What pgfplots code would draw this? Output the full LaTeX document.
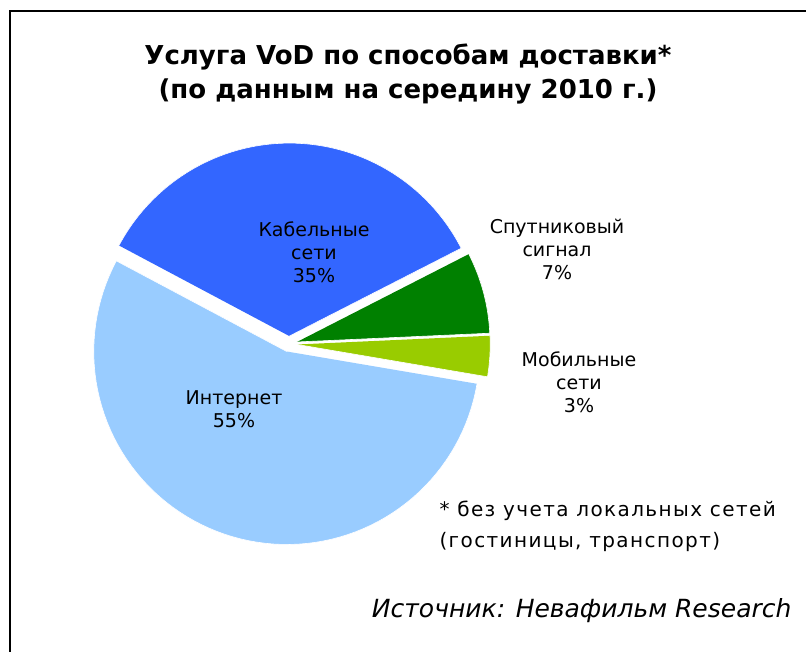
\documentclass[border=0pt]{standalone}
\usepackage{fontspec}
\setmainfont{DejaVu Sans}
\usepackage{pgfplots}
\usepackage{pgfplotstable}
\pgfplotsset{compat=1.18}
\definecolor{cab}{HTML}{3366FF}
\definecolor{sat}{HTML}{008000}
\definecolor{mob}{HTML}{99CC00}
\definecolor{inet}{HTML}{99CCFF}
\pgfplotstableread{
share
34.7
6.8
3.4
55.1
}\pietable
\begin{document}
\begin{tikzpicture}
\useasboundingbox (0pt,0pt) rectangle (806pt,-652pt);
\fill[white] (0pt,0pt) rectangle (806pt,-652pt);
\draw[line width=2.2pt] (10pt,-660pt) -- (10pt,-11pt) -- (820pt,-11pt);
% compute slice angles
\pgfmathsetmacro\st{152}
\pgfplotstablegetelem{0}{share}\of\pietable \pgfmathsetmacro\vA{\pgfplotsretval}
\pgfplotstablegetelem{1}{share}\of\pietable \pgfmathsetmacro\vB{\pgfplotsretval}
\pgfplotstablegetelem{2}{share}\of\pietable \pgfmathsetmacro\vC{\pgfplotsretval}
\pgfplotstablegetelem{3}{share}\of\pietable \pgfmathsetmacro\vD{\pgfplotsretval}
\pgfmathsetmacro\aA{\st}
\pgfmathsetmacro\bA{\aA-3.6*\vA}
\pgfmathsetmacro\bB{\bA-3.6*\vB}
\pgfmathsetmacro\bC{\bB-3.6*\vC}
\pgfmathsetmacro\bD{\bC-3.6*\vD}
\def\ex{0.041}
\begin{axis}[
  at={(289.3pt,-344pt)}, anchor=center,
  scale only axis, width=463.2pt, height=463.2pt,
  xmin=-1.2,xmax=1.2,ymin=-1.2,ymax=1.2,
  hide axis, clip=false,
  samples at={0,0.0125,...,1.0125,2},
]
\addplot[fill=cab, draw=white, line width=0.6pt]
 ({\ex*cos((\aA+\bA)/2) + (x<1.5)*cos(\aA+(\bA-\aA)*min(x,1))},
  {\ex*sin((\aA+\bA)/2) + (x<1.5)*sin(\aA+(\bA-\aA)*min(x,1))});
\addplot[fill=sat, draw=white, line width=0.6pt]
 ({\ex*cos((\bA+\bB)/2) + (x<1.5)*cos(\bA+(\bB-\bA)*min(x,1))},
  {\ex*sin((\bA+\bB)/2) + (x<1.5)*sin(\bA+(\bB-\bA)*min(x,1))});
\addplot[fill=mob, draw=white, line width=0.6pt]
 ({\ex*cos((\bB+\bC)/2) + (x<1.5)*cos(\bB+(\bC-\bB)*min(x,1))},
  {\ex*sin((\bB+\bC)/2) + (x<1.5)*sin(\bB+(\bC-\bB)*min(x,1))});
\addplot[fill=inet, draw=white, line width=0.6pt]
 ({\ex*cos((\bC+\bD)/2) + (x<1.5)*cos(\bC+(\bD-\bC)*min(x,1))},
  {\ex*sin((\bC+\bD)/2) + (x<1.5)*sin(\bC+(\bD-\bC)*min(x,1))});
\end{axis}
% title
\node[font=\fontsize{26}{34}\selectfont\bfseries, align=center] at (408pt,-74pt)
 {Услуга VoD по способам доставки*\\(по данным на середину 2010 г.)};
% labels
\begin{scope}[every node/.style={font=\fontsize{19}{23}\selectfont, align=center}]
\node at (314pt,-252pt) {Кабельные\\сети\\35\%};
\node at (557pt,-249pt) {Спутниковый\\сигнал\\7\%};
\node at (579pt,-382pt) {Мобильные\\сети\\3\%};
\node at (234pt,-409pt) {Интернет\\55\%};
\node[anchor=west, align=left, font=\fontsize{20}{31}\selectfont\addfontfeatures{LetterSpace=7}] at (436pt,-526pt)
 {* без учета локальных сетей\\(гостиницы, транспорт)};
\end{scope}
\node[anchor=east, font=\fontsize{25}{30}\selectfont\itshape] at (795pt,-611pt)
 {Источник: Невафильм Research};
\end{tikzpicture}
\end{document}
